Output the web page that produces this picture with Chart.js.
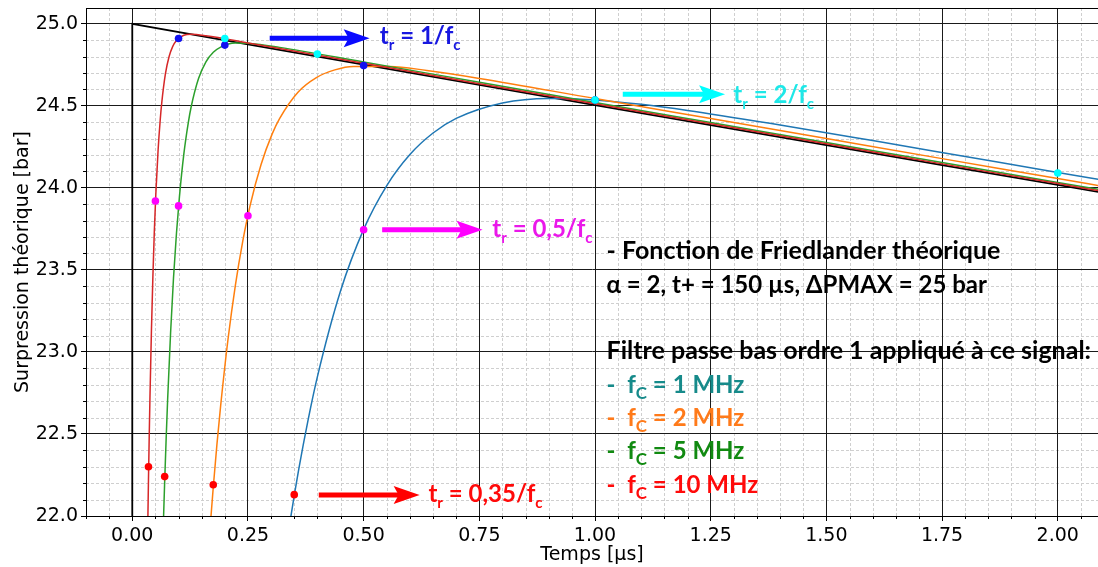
<!DOCTYPE html>
<html><head><meta charset="utf-8">
<script src="https://cdn.jsdelivr.net/npm/chart.js@4.4.1/dist/chart.umd.min.js"></script>
<style>html,body{margin:0;padding:0;background:#fff;overflow:hidden;width:1098px;height:567px;}canvas{display:block;}</style>
</head><body>
<canvas id="c" width="1102" height="567"></canvas>
<script>
const friedT = [0, 0, 0.25, 0.5, 0.75, 1.0, 1.25, 1.5, 1.75, 2.0, 2.1];
const friedP = [0, 25, 24.875, 24.751, 24.628, 24.504, 24.382, 24.260, 24.139, 24.018, 23.969];
const fc10T = [0, 0.0159, 0.0239, 0.0286, 0.0318, 0.0334, 0.0350, 0.0366, 0.0382, 0.0414, 0.0446, 0.0477, 0.0509, 0.0557, 0.0605, 0.0637, 0.0716, 0.0796, 0.0875, 0.0955, 0.1114, 0.1273, 0.1592, 0.25, 0.5, 0.75, 1.0, 1.25, 1.5, 1.75, 2.0, 2.1];
const fc10P = [0, 15.800, 19.416, 20.860, 21.608, 21.929, 22.220, 22.482, 22.720, 23.130, 23.465, 23.739, 23.963, 24.225, 24.418, 24.518, 24.694, 24.800, 24.862, 24.898, 24.930, 24.936, 24.927, 24.883, 24.759, 24.635, 24.512, 24.390, 24.268, 24.146, 24.026, 23.977];
const fc5T = [0, 0.0318, 0.0477, 0.0573, 0.0637, 0.0668, 0.0700, 0.0732, 0.0764, 0.0828, 0.0891, 0.0955, 0.1019, 0.1114, 0.1210, 0.1273, 0.1432, 0.1592, 0.1751, 0.1910, 0.2228, 0.2546, 0.3183, 0.5, 0.75, 1.0, 1.25, 1.5, 1.75, 2.0, 2.1];
const fc5P = [0, 15.797, 19.410, 20.852, 21.598, 21.919, 22.209, 22.471, 22.708, 23.117, 23.450, 23.723, 23.945, 24.205, 24.396, 24.494, 24.666, 24.768, 24.826, 24.858, 24.882, 24.880, 24.856, 24.767, 24.643, 24.520, 24.398, 24.276, 24.154, 24.033, 23.985];
const fc2T = [0, 0.0796, 0.1194, 0.1432, 0.1592, 0.1671, 0.1751, 0.1830, 0.1910, 0.2069, 0.2228, 0.2387, 0.2546, 0.2785, 0.3024, 0.3183, 0.3581, 0.3979, 0.4377, 0.4775, 0.5570, 0.6366, 0.75, 1.0, 1.25, 1.5, 1.75, 2.0, 2.1];
const fc2P = [0, 15.788, 19.393, 20.829, 21.571, 21.890, 22.178, 22.438, 22.673, 23.077, 23.406, 23.674, 23.892, 24.144, 24.329, 24.422, 24.583, 24.672, 24.719, 24.740, 24.740, 24.715, 24.667, 24.544, 24.422, 24.300, 24.178, 24.057, 24.008];
const fc1T = [0, 0.1592, 0.2387, 0.2865, 0.32, 0.34, 0.36, 0.38, 0.40, 0.45, 0.50, 0.55, 0.60, 0.65, 0.70, 0.80, 0.90, 1.0, 1.1, 1.2, 1.4, 1.6, 1.8, 2.0, 2.1];
const fc1P = [0, 15.78, 19.364, 20.79, 21.561, 21.948, 22.288, 22.586, 22.848, 23.371, 23.747, 24.014, 24.203, 24.334, 24.423, 24.517, 24.545, 24.536, 24.509, 24.472, 24.383, 24.288, 24.191, 24.094, 24.046];
const tr035T = [0.035, 0.07, 0.175, 0.35];
const tr035P = [22.30, 22.24, 22.19, 22.13];
const tr05T = [0.05, 0.1, 0.25, 0.5];
const tr05P = [23.92, 23.89, 23.83, 23.745];
const tr1T = [0.1, 0.2, 0.5, 1.0];
const tr1P = [24.91, 24.87, 24.745, 24.535];
const tr2T = [0.2, 0.4, 1.0, 2.0];
const tr2P = [24.91, 24.815, 24.535, 24.09];
const xTicks = [0, 0.25, 0.5, 0.75, 1.0, 1.25, 1.5, 1.75, 2.0];
const xTickLabels = ['0.00','0.25','0.50','0.75','1.00','1.25','1.50','1.75','2.00'];
const yTicks = [22.0, 22.5, 23.0, 23.5, 24.0, 24.5, 25.0];
const yTickLabels = ['22.0','22.5','23.0','23.5','24.0','24.5','25.0'];
const xMinorStep = 0.05, yMinorStep = 0.1;

const pts = (t, p) => t.map((v, i) => ({x: v, y: p[i]}));
const line = (label, t, p, color, order, w) => ({
  type: 'line', label, data: pts(t, p), borderColor: color, backgroundColor: color,
  borderWidth: w, pointRadius: 0, fill: false, cubicInterpolationMode: 'monotone', order
});
const mark = (label, t, p, color, order) => ({
  type: 'scatter', label, data: pts(t, p), backgroundColor: color, borderColor: color,
  pointRadius: 3.8, pointBorderWidth: 0, showLine: false, order
});
const FONT = "'DejaVu Sans', sans-serif";
const AFONT = "Lato, 'Open Sans', sans-serif";

const minorGrid = {
  id: 'minorGrid',
  beforeDraw(chart) {
    const {ctx, chartArea: a, scales: {x, y}} = chart;
    ctx.save();
    ctx.strokeStyle = '#cfcfcf'; ctx.lineWidth = 1; ctx.setLineDash([3, 2]);
    const xs = [], ys = [];
    for (let k = -2; k * xMinorStep <= x.max + 1e-9; k++) { if (k % 5) xs.push(k * xMinorStep); }
    for (let k = 1; 22 + k * yMinorStep <= y.max + 1e-9; k++) { if (k % 5) ys.push(22 + k * yMinorStep); }
    for (const v of xs) {
      const px = Math.round(x.getPixelForValue(v)) + 0.5;
      ctx.beginPath(); ctx.moveTo(px, a.top); ctx.lineTo(px, a.bottom); ctx.stroke();
    }
    for (const v of ys) {
      const py = Math.round(y.getPixelForValue(v)) + 0.5;
      ctx.beginPath(); ctx.moveTo(a.left, py); ctx.lineTo(a.right, py); ctx.stroke();
    }
    ctx.setLineDash([]); ctx.strokeStyle = '#000';
    for (const v of xs) {
      const px = Math.round(x.getPixelForValue(v)) + 0.5;
      ctx.beginPath(); ctx.moveTo(px, a.bottom); ctx.lineTo(px, a.bottom + 3); ctx.stroke();
    }
    for (const v of ys) {
      const py = Math.round(y.getPixelForValue(v)) + 0.5;
      ctx.beginPath(); ctx.moveTo(a.left - 3, py); ctx.lineTo(a.left, py); ctx.stroke();
    }
    ctx.restore();
  }
};

function rich(ctx, x, y, parts, size, subSize, subDrop) {
  let cx = x;
  for (const [txt, sub] of parts) {
    ctx.font = `bold ${sub ? subSize : size}px ${AFONT}`;
    ctx.fillText(txt, cx, y + (sub ? subDrop : 0));
    cx += ctx.measureText(txt).width;
  }
}
function arrow(ctx, x0, x1, y, color) {
  const hl = 26, hh = 9, notch = 5;
  ctx.fillStyle = color; ctx.strokeStyle = color;
  ctx.lineWidth = 5; ctx.lineCap = 'butt';
  ctx.beginPath(); ctx.moveTo(x0, y); ctx.lineTo(x1 - hl + notch + 2, y); ctx.stroke();
  ctx.beginPath();
  ctx.moveTo(x1, y); ctx.lineTo(x1 - hl, y - hh); ctx.lineTo(x1 - hl + notch, y);
  ctx.lineTo(x1 - hl, y + hh); ctx.closePath(); ctx.fill();
}
const arrows = [
  {x0: 0.297, x1: 0.513, y: 24.912, tx: 0.535, ty: 24.877, color: '#0a0aff', tcolor: '#1818e0', parts: [['t', 0], ['r', 1], [' = 1/f', 0], ['c', 1]]},
  {x0: 1.060, x1: 1.281, y: 24.570, tx: 1.299, ty: 24.518, color: '#00ffff', tcolor: '#1ee8e8', parts: [['t', 0], ['r', 1], [' = 2/f', 0], ['c', 1]]},
  {x0: 0.540, x1: 0.757, y: 23.744, tx: 0.778, ty: 23.700, color: '#ff00ff', tcolor: '#ea18ea', parts: [['t', 0], ['r', 1], [' = 0,5/f', 0], ['c', 1]]},
  {x0: 0.403, x1: 0.621, y: 22.128, tx: 0.640, ty: 22.088, color: '#ff0000', tcolor: '#ff0a0a', parts: [['t', 0], ['r', 1], [' = 0,35/f', 0], ['c', 1]]}
];
const textX = 1.025;
const textLines = [
  {y: 23.567, size: 25, color: '#000', parts: [['- Fonction de Friedlander théorique', 0]]},
  {y: 23.362, size: 24, color: '#000', parts: [['α = 2, t+ = 150 µs, ΔPMAX = 25 bar', 0]]},
  {y: 22.957, size: 25, color: '#000', parts: [['Filtre passe bas ordre 1 appliqué à ce signal:', 0]]},
  {y: 22.752, size: 24, color: '#168a8a', parts: [['-  f', 0], ['C', 1], [' = 1 MHz', 0]]},
  {y: 22.549, size: 24, color: '#ff7a1a', parts: [['-  f', 0], ['C', 1], [' = 2 MHz', 0]]},
  {y: 22.348, size: 24, color: '#118a11', parts: [['-  f', 0], ['C', 1], [' = 5 MHz', 0]]},
  {y: 22.143, size: 24, color: '#ff0a0a', parts: [['-  f', 0], ['C', 1], [' = 10 MHz', 0]]}
];
const overlay = {
  id: 'overlay',
  afterDraw(chart) {
    const {ctx, chartArea: a, scales: {x, y}} = chart;
    ctx.save();
    ctx.strokeStyle = '#000'; ctx.lineWidth = 1;
    ctx.beginPath(); ctx.moveTo(a.left, a.top + 0.5); ctx.lineTo(a.right, a.top + 0.5); ctx.stroke();
    ctx.textAlign = 'left'; ctx.textBaseline = 'alphabetic';
    for (const ar of arrows) {
      arrow(ctx, x.getPixelForValue(ar.x0), x.getPixelForValue(ar.x1), y.getPixelForValue(ar.y), ar.color);
      ctx.fillStyle = ar.tcolor;
      rich(ctx, x.getPixelForValue(ar.tx), y.getPixelForValue(ar.ty), ar.parts, 24, 15, 6);
    }
    for (const l of textLines) {
      ctx.fillStyle = l.color;
      rich(ctx, x.getPixelForValue(textX), y.getPixelForValue(l.y), l.parts, l.size, 17, 6);
    }
    ctx.restore();
  }
};

new Chart(document.getElementById('c'), {
  type: 'line',
  data: {
    datasets: [
      mark('tr = 2/fc', tr2T, tr2P, '#00ffff', 0),
      mark('tr = 1/fc', tr1T, tr1P, '#1010f0', 1),
      mark('tr = 0,5/fc', tr05T, tr05P, '#ff00ff', 2),
      mark('tr = 0,35/fc', tr035T, tr035P, '#ff0000', 3),
      line('fc = 10 MHz', fc10T, fc10P, '#d62728', 4, 1.5),
      line('fc = 5 MHz', fc5T, fc5P, '#2ca02c', 5, 1.5),
      line('fc = 2 MHz', fc2T, fc2P, '#ff7f0e', 6, 1.5),
      line('fc = 1 MHz', fc1T, fc1P, '#1f77b4', 7, 1.5),
      Object.assign(line('Friedlander', friedT, friedP, '#000000', 8, 1.8), {cubicInterpolationMode: 'default', tension: 0})
    ]
  },
  options: {
    responsive: false, devicePixelRatio: 1, animation: false, events: [],
    layout: {padding: {top: 8, left: 0, right: 0, bottom: 0}},
    plugins: {legend: {display: false}, tooltip: {enabled: false}},
    scales: {
      x: {
        type: 'linear', min: -0.1, max: 2.087,
        afterBuildTicks: s => { s.ticks = xTicks.map(v => ({value: v})); },
        afterFit: s => { s.height = 51; s.paddingLeft = 0; s.paddingRight = 0; },
        ticks: {autoSkip: false, maxRotation: 0, padding: 4, color: '#000',
          font: {family: FONT, size: 19}, callback: (v, i) => xTickLabels[i]},
        grid: {color: '#1a1a1a', lineWidth: 1, tickLength: 5, tickColor: '#000'},
        border: {color: '#000', width: 1},
        title: {display: true, text: 'Temps [µs]', color: '#000', font: {family: FONT, size: 19}, padding: {top: 0, bottom: 1}}
      },
      y: {
        type: 'linear', min: 22.0, max: 25.096,
        afterBuildTicks: s => { s.ticks = yTicks.map(v => ({value: v})); },
        afterFit: s => { s.width = 86; s.paddingTop = 0; s.paddingBottom = 0; s.paddingLeft = 0; s.paddingRight = 0; },
        ticks: {autoSkip: false, padding: 3, color: '#000',
          font: {family: FONT, size: 19}, callback: (v, i) => yTickLabels[i]},
        grid: {color: '#1a1a1a', lineWidth: 1, tickLength: 5, tickColor: '#000'},
        border: {color: '#000', width: 1},
        title: {display: true, text: 'Surpression théorique [bar]', color: '#000', font: {family: FONT, size: 19}, padding: {top: 12, bottom: 0}}
      }
    }
  },
  plugins: [minorGrid, overlay]
});
</script></body></html>
